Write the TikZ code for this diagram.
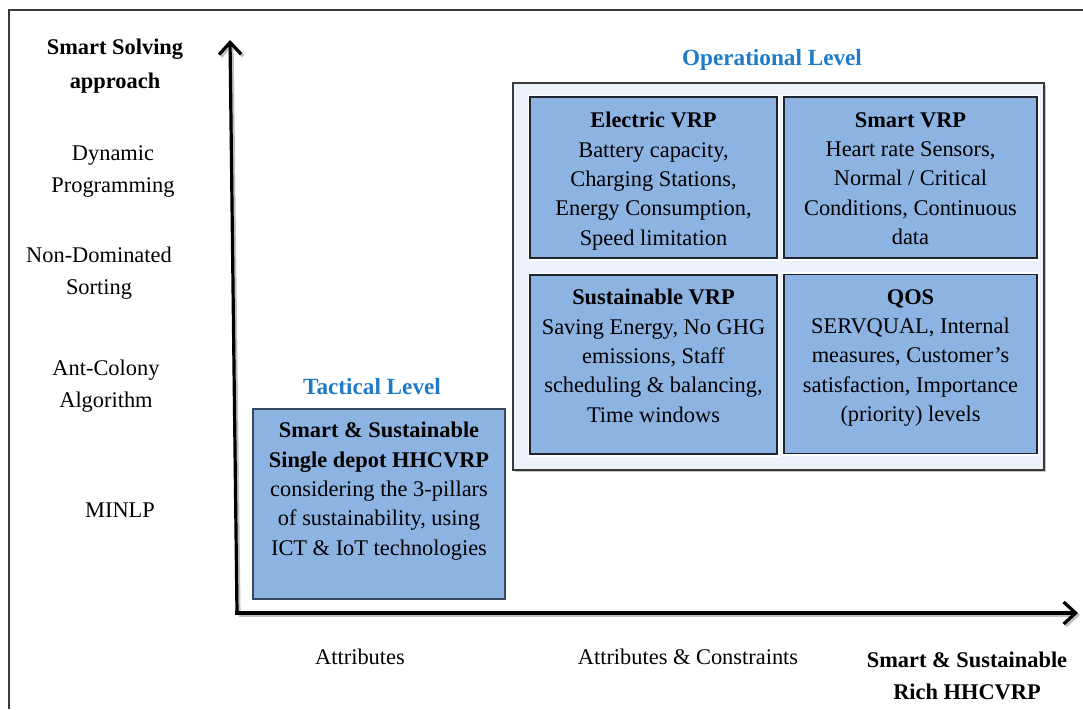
\documentclass[tikz,border=0pt]{standalone}
\usepackage{fontspec}
\setmainfont{Liberation Serif}
\usetikzlibrary{arrows.meta,shadows}
\definecolor{boxblue}{HTML}{8DB3E2}
\definecolor{lvlblue}{HTML}{1F7BC8}
\definecolor{opfill}{HTML}{EDF2FA}
\definecolor{cellline}{HTML}{1E2530}
\definecolor{framegray}{HTML}{3A3A3A}
\begin{document}
\begin{tikzpicture}[x=0.5pt,y=-0.5pt,
  cell/.style={draw=cellline, fill=boxblue, line width=0.6pt, inner sep=0pt, outer sep=0pt,
    preaction={draw=white, line width=2.5pt}},
  txt/.style={anchor=north, align=center, inner sep=0pt, font=\fontsize{11.2pt}{14.65pt}\selectfont},
  lbl/.style={anchor=north, align=center, inner sep=0pt, font=\fontsize{11.2pt}{16pt}\selectfont},
  blbl/.style={anchor=north, align=center, inner sep=0pt, font=\fontsize{11.2pt}{17pt}\selectfont\bfseries},
  lvl/.style={anchor=north, inner sep=0pt, text=lvlblue, font=\fontsize{11.6pt}{14pt}\selectfont\bfseries},
  axisline/.style={line width=1.6pt, -{Straight Barb[length=6pt,width=11pt]}},
  axisshadow/.style={line width=1.6pt, black!25, -{Straight Barb[length=6pt,width=11pt]}}
]
\useasboundingbox (0,0) rectangle (1083,709);
% outer frame
\draw[framegray, line width=0.6pt] (9,709) -- (9,10) -- (1083,10);

% axes
\coordinate (O) at (237,613);
\coordinate (ytip) at (230,40);
\coordinate (xtip) at (1078,613);
\draw[axisshadow] ([shift={(2,2)}]O) -- ([shift={(2,2)}]ytip);
\draw[axisshadow] ([shift={(2,2)}]O) -- ([shift={(2,2)}]xtip);
\draw[axisline] (O) -- (ytip);
\draw[axisline] ([xshift=-0.8pt]O) -- (xtip);

% operational level container
\node[draw=framegray, line width=1pt, fill=opfill, minimum width=265.5pt, minimum height=193.5pt,
  inner sep=0pt, drop shadow={shadow xshift=1.2pt, shadow yshift=-1.2pt, opacity=0.45}]
  (opbox) at (778.5,276.5) {};

\node[cell, minimum width=123.5pt, minimum height=80.5pt] (evbox) at (653.5,177.5) {};
\node[cell, minimum width=126.5pt, minimum height=80.5pt] (svbox) at (910.5,177.5) {};
\node[cell, minimum width=123.5pt, minimum height=89.5pt] (susbox) at (653.5,364.5) {};
\node[cell, minimum width=126.5pt, minimum height=89.5pt] (qosbox) at (910.5,364) {};

\node[txt] (evtxt) at (653.5,112) {\textbf{Electric VRP}\\Battery capacity,\\Charging Stations,\\Energy Consumption,\\Speed limitation};
\node[txt] (svtxt) at (910.5,112) {\textbf{Smart VRP}\\Heart rate Sensors,\\Normal / Critical\\Conditions, Continuous\\data};
\node[txt] (sustxt) at (653.5,289) {\textbf{Sustainable VRP}\\Saving Energy, No GHG\\emissions, Staff\\scheduling \& balancing,\\Time windows};
\node[txt] (qostxt) at (910.5,289) {\textbf{QOS}\\SERVQUAL, Internal\\measures, Customer’s\\satisfaction, Importance\\(priority) levels};

\node[lvl] (optitle) at (772,49) {Operational Level};

% tactical level
\node[lvl] (tactitle) at (372,378) {Tactical Level};
\node[fill=boxblue, draw=black!60!boxblue, line width=1.4pt, minimum width=126pt, minimum height=95pt,
  inner sep=0pt] (tacbox) at (379,504) {};
\node[txt] (tactxt) at (379,422) {\textbf{Smart \& Sustainable}\\\textbf{Single depot HHCVRP}\\considering the 3-pillars\\of sustainability, using\\ICT \& IoT technologies};

% left (y-axis) labels
\node[blbl] (ytitle) at (115,39) {Smart Solving\\approach};
\node[lbl] (dp) at (113,145) {Dynamic\\Programming};
\node[lbl] (nds) at (99,247) {Non-Dominated\\Sorting};
\node[lbl] (aco) at (106,360) {Ant-Colony\\Algorithm};
\node[lbl] (minlp) at (120,502) {MINLP};

% bottom (x-axis) labels
\node[lbl] (attr) at (360,649) {Attributes};
\node[lbl] (attrc) at (688,649) {Attributes \& Constraints};
\node[blbl, font=\fontsize{11.2pt}{16pt}\selectfont\bfseries] (xtitle) at (967,652) {Smart \& Sustainable\\Rich HHCVRP};
\end{tikzpicture}
\end{document}
